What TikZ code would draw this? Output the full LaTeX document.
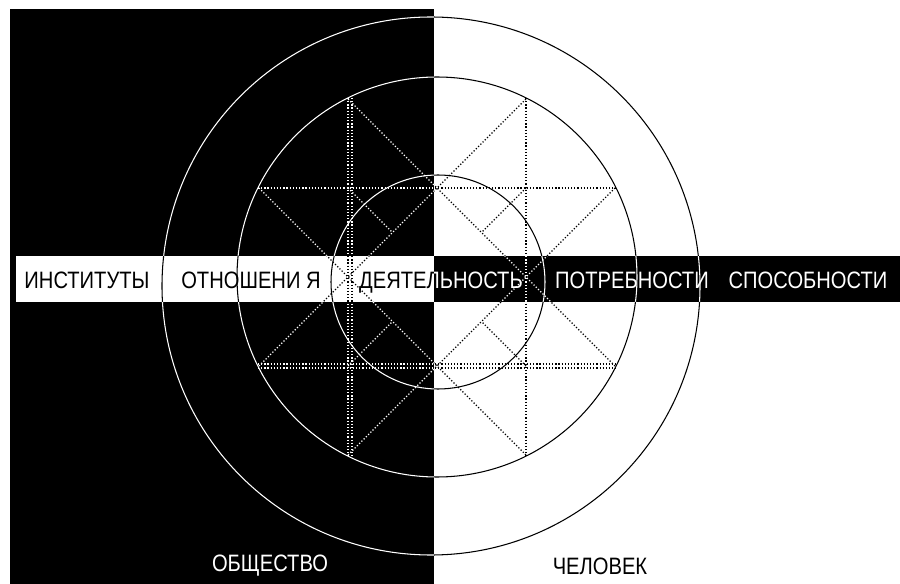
\documentclass[tikz,border=0pt]{standalone}
\usepackage{fontspec}
\newfontfamily\bandfont[FakeStretch=0.85]{Liberation Sans}
\usetikzlibrary{calc}

% circles, chords and the four half-diamonds, in one colour
\newcommand{\ringsandstars}[1]{%
  \draw[ring=#1] (431,286) circle[radius=269];
  \draw[ring=#1] (437,277) circle[radius=200];
  \draw[ring=#1] (438,282) circle[radius=107];
  % chords of the middle circle
  \draw[dotline=#1] (348,98) -- (348,456);
  \draw[dotline=#1] (352,98) -- (352,456);
  \draw[dotline=#1] (526,98) -- (526,456);
  \draw[dotline=#1] (258,188) -- (616,188);
  \draw[dotline=#1] (258,364) -- (616,364);
  \draw[dotline=#1] (258,368) -- (616,368);
  \foreach \sx/\sy in {-1/-1, 1/-1, -1/1, 1/1} {
    \coordinate (hv) at ({437+178*\sx}, {277+89*\sy});
    \coordinate (vv) at ({437+89*\sx}, {277+178*\sy});
    \coordinate (ax) at (437, {277+89*\sy});
    \coordinate (ay) at ({437+89*\sx}, 277);
    \coordinate (pc) at ({437+89*\sx}, {277+89*\sy});
    \draw[dotline=#1] (hv) -- (ay) -- (ax) -- (vv);
    \draw[dotline=#1] (pc) -- ($(ax)!0.5!(ay)$);
  }%
}

\begin{document}
\begin{tikzpicture}[x=0.02cm, y=-0.02cm,
  ring/.style={draw=#1, line width=0.6pt},
  dotline/.style={draw=#1, line width=0.7pt, dash pattern=on 0.7pt off 1.1pt},
  word/.style={text=#1, font=\bandfont\fontsize{13.5}{14}\selectfont, inner sep=0pt, anchor=base},
]
  \useasboundingbox (0,0) rectangle (900,584);

  % black half and the band
  \fill[white] (0,0) rectangle (900,584);
  \fill[black] (10,9) rectangle (434,584);
  \fill[white] (16,256) rectangle (434,302);
  \fill[black] (434,256) rectangle (900,302);

  \begin{scope}
    \clip (10,9) rectangle (434,256) (10,256) rectangle (16,302)
          (10,302) rectangle (434,584) (434,256) rectangle (900,302);
    \ringsandstars{white}
  \end{scope}
  \begin{scope}
    \clip (0,0) rectangle (10,584) (10,0) rectangle (434,9)
          (16,256) rectangle (434,302) (434,0) rectangle (900,256)
          (434,302) rectangle (900,584);
    \ringsandstars{black}
  \end{scope}

  % band words
  \node[word=black] (institutes) at (87,289) {ИНСТИТУТЫ};
  \node[word=black] (relations) at (251,289) {ОТНОШЕНИ Я};
  \begin{scope}
    \clip (16,256) rectangle (434,302);
    \node[word=black] (activity) at (441,289) {ДЕЯТЕЛЬНОСТЬ};
  \end{scope}
  \begin{scope}
    \clip (434,256) rectangle (900,302);
    \node[word=white] (activity-r) at (441,289) {ДЕЯТЕЛЬНОСТЬ};
  \end{scope}
  \node[word=white] (needs) at (632,289) {ПОТРЕБНОСТИ};
  \node[word=white] (abilities) at (808,289) {СПОСОБНОСТИ};

  \node[word=white] (society) at (270,571) {ОБЩЕСТВО};
  \node[word=black] (person) at (600,574) {ЧЕЛОВЕК};
\end{tikzpicture}
\end{document}
